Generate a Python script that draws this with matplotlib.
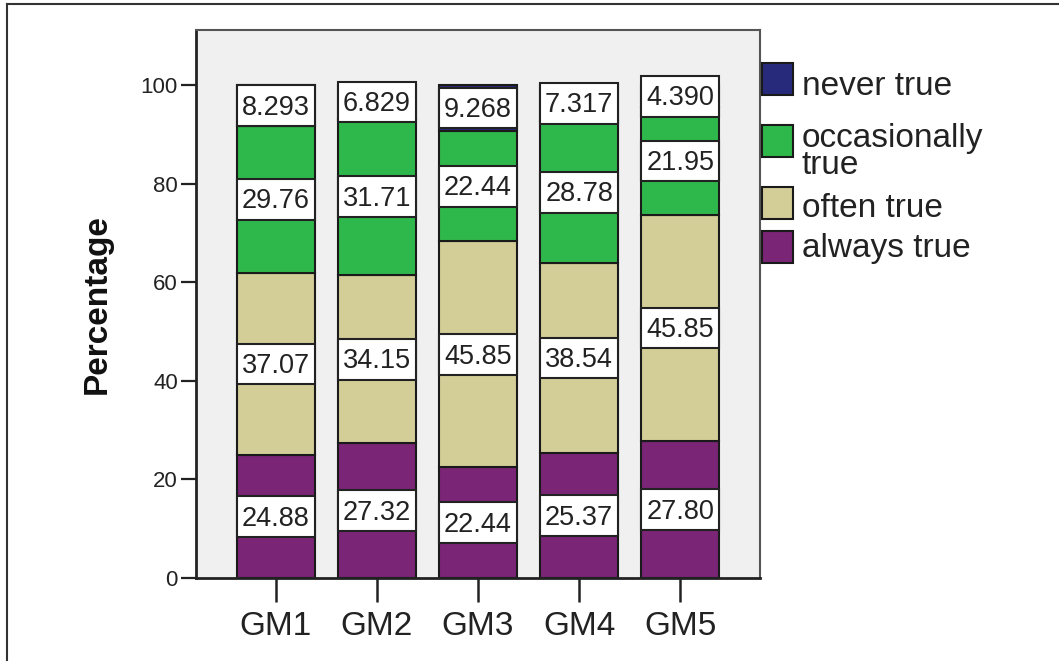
import matplotlib
matplotlib.use("Agg")
import matplotlib.pyplot as plt
from matplotlib.patches import Rectangle
from matplotlib.lines import Line2D

plt.rcParams["font.family"] = ["Liberation Sans", "DejaVu Sans"]

# --- data: percentage of answers per item ---
groups = ["GM1", "GM2", "GM3", "GM4", "GM5"]
always_true = [24.88, 27.32, 22.44, 25.37, 27.80]
often_true = [37.07, 34.15, 45.85, 38.54, 45.85]
occasionally_true = [29.76, 31.71, 22.44, 28.78, 21.95]
never_true = [8.293, 6.829, 9.268, 7.317, 4.390]

series = [
    ("always true", always_true, "#7b2577"),
    ("often true", often_true, "#d3cd98"),
    ("occasionally\ntrue", occasionally_true, "#2eb84b"),
    ("never true", never_true, "#272a7a"),
]

W, H = 1059, 661
fig = plt.figure(figsize=(W / 100, H / 100), dpi=100)
ax = fig.add_axes([196 / W, 1 - 578 / H, (760 - 196) / W, (578 - 30) / H])
ax.set_facecolor("#f0f0f0")

x = list(range(len(groups)))
bar_w = 0.77
box_h = 8.3


def fmt(v):
    # four significant digits, SPSS style
    return f"{v:.{4 - len(str(int(v)))}f}"


bottoms = [0.0] * len(groups)
for name, vals, col in series:
    ax.bar(x, vals, width=bar_w, bottom=bottoms, color=col,
           edgecolor="#1a1a1a", linewidth=1.5, zorder=2)
    for xi, b, v in zip(x, bottoms, vals):
        mid = b + v / 2
        ax.add_patch(Rectangle((xi - bar_w / 2, mid - box_h / 2), bar_w, box_h,
                               facecolor="white", edgecolor="#222222",
                               linewidth=1.5, zorder=3))
        ax.annotate(fmt(v), (xi, mid), xytext=(0, -1.5), textcoords="offset points",
                    ha="center", va="center", fontsize=19.5, color="#222222",
                    zorder=4)
    bottoms = [b + v for b, v in zip(bottoms, vals)]

ax.set_xlim(-0.79, 4.79)
ax.set_ylim(0, 111.2)
ax.set_yticks([0, 20, 40, 60, 80, 100])
ax.set_xticks(x)
ax.set_xticklabels(groups)
ax.tick_params(axis="y", length=11, width=1.6, pad=2, labelsize=16,
               colors="#222222")
ax.tick_params(axis="x", length=17, width=1.8, pad=6.5, labelsize=24,
               colors="#222222")

for side in ["left", "bottom"]:
    ax.spines[side].set_linewidth(2)
    ax.spines[side].set_color("#222222")
for side in ["top", "right"]:
    ax.spines[side].set_linewidth(1.5)
    ax.spines[side].set_color("#555555")

ax.set_ylabel("Percentage", fontsize=24, fontweight="bold", color="#111111")
ax.yaxis.set_label_coords(-0.148, 0.5)

# legend drawn by hand so the wrapped label sits like SPSS output
# (baseline is that of the last line of each label)
legend_tops = [231, 187, 125, 63]
legend_baselines = [257, 217, 174, 95]
for (name, vals, col), top, base in zip(series, legend_tops, legend_baselines):
    fig.add_artist(Rectangle((762 / W, 1 - (top + 32) / H), 31 / W, 32 / H,
                             transform=fig.transFigure, facecolor=col,
                             edgecolor="#1a1a1a", linewidth=1.5))
    fig.text(802 / W, 1 - base / H, name, fontsize=24, color="#222222",
             va="baseline", ha="left", linespacing=0.85)

# outer frame lines
fig.add_artist(Line2D([7 / W, 1], [1 - 4 / H, 1 - 4 / H], transform=fig.transFigure,
                      color="#333333", linewidth=1.5))
fig.add_artist(Line2D([7 / W, 7 / W], [0, 1 - 4 / H], transform=fig.transFigure,
                      color="#333333", linewidth=1.5))

fig.savefig("out.png", dpi=100)
